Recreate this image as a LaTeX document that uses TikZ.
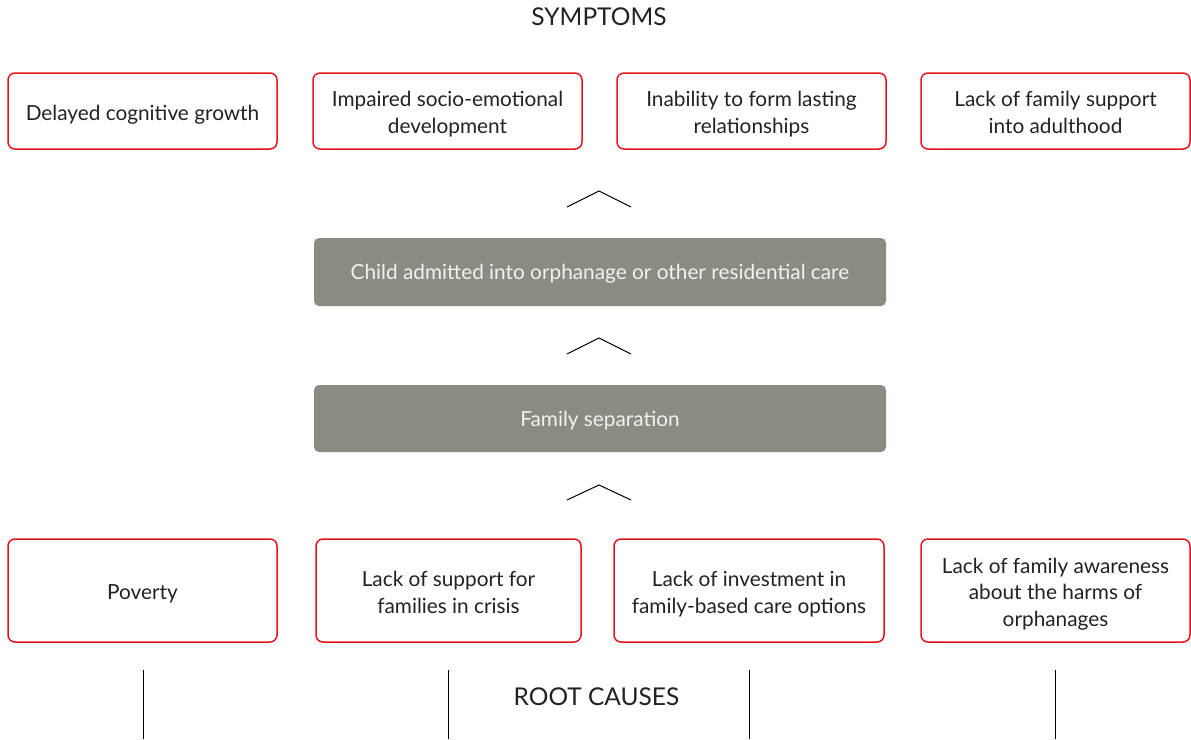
\documentclass[tikz,border=0pt]{standalone}
\usepackage{fontspec}
\setmainfont{Lato}
\definecolor{boxred}{HTML}{E2141B}
\definecolor{boxgray}{HTML}{8B8B82}
\definecolor{txt}{HTML}{222222}
\begin{document}
\begin{tikzpicture}[x=1pt,y=-1pt,
  redbox/.style={draw=boxred, line width=1.5pt, rounded corners=7pt, align=center, text=txt, font=\fontsize{20.8}{27}\selectfont, inner sep=0pt, text height=21pt, text depth=3pt, minimum width=269pt},
  twoline/.style={text height=48pt},
  threeline/.style={text height=74pt, font=\fontsize{20.8}{26.3}\selectfont},
  graybox/.style={fill=boxgray, rounded corners=5pt, text=white!95!black, font=\fontsize{20.8}{27}\selectfont, inner sep=0pt, text height=18pt, text depth=3pt, minimum width=572pt},
  chev/.style={draw=black, line width=1pt},
  stem/.style={draw=black, line width=1pt},
  title/.style={font=\fontsize{24.5}{28}\selectfont, text=txt, anchor=base, inner sep=0pt}]
\useasboundingbox (0,0) rectangle (1191,739);
% titles
\node[title] (symp) at (599,25) {SYMPTOMS};
\node[title] (root) at (596.5,705) {ROOT CAUSES};
% top boxes
\node[redbox, minimum height=76pt] (t1) at (142.5,111) {Delayed cognitive growth};
\node[redbox, twoline, minimum height=76pt] (t2) at (447.5,111) {Impaired socio-emotional\\development};
\node[redbox, twoline, minimum height=76pt] (t3) at (751.5,111) {Inability to form lasting\\relationships};
\node[redbox, twoline, minimum height=76pt] (t4) at (1055.5,111) {Lack of family support\\into adulthood};
% gray boxes
\node[graybox, minimum height=68pt] (g1) at (600,272) {Child admitted into orphanage or other residential care};
\node[graybox, minimum height=67pt] (g2) at (600,418.5) {Family separation};
% bottom boxes
\node[redbox, minimum height=103pt] (b1) at (142.5,590.5) {Poverty};
\node[redbox, twoline, minimum width=265pt, minimum height=103pt] (b2) at (448.5,590.5) {Lack of support for\\families in crisis};
\node[redbox, twoline, minimum width=270pt, minimum height=103pt] (b3) at (749,590.5) {Lack of investment in\\family-based care options};
\node[redbox, threeline, minimum height=103pt] (b4) at (1055.5,590.5) {Lack of family awareness\\about the harms of\\orphanages};
% chevrons
\coordinate (c1) at (599,191);
\coordinate (c2) at (599,338);
\coordinate (c3) at (599,485);
\draw[chev] (c1) ++(-32,16) -- (c1) -- ++(32,16);
\draw[chev] (c2) ++(-32,16) -- (c2) -- ++(32,16);
\draw[chev] (c3) ++(-32,15) -- (c3) -- ++(32,15);
% stems
\coordinate (s1) at (143,670); \coordinate (e1) at (143,739);
\coordinate (s2) at (448,670); \coordinate (e2) at (448,739);
\coordinate (s3) at (749,670); \coordinate (e3) at (749,739);
\coordinate (s4) at (1055,670); \coordinate (e4) at (1055,739);
\draw[stem] (s1) -- (e1);
\draw[stem] (s2) -- (e2);
\draw[stem] (s3) -- (e3);
\draw[stem] (s4) -- (e4);
\end{tikzpicture}
\end{document}
